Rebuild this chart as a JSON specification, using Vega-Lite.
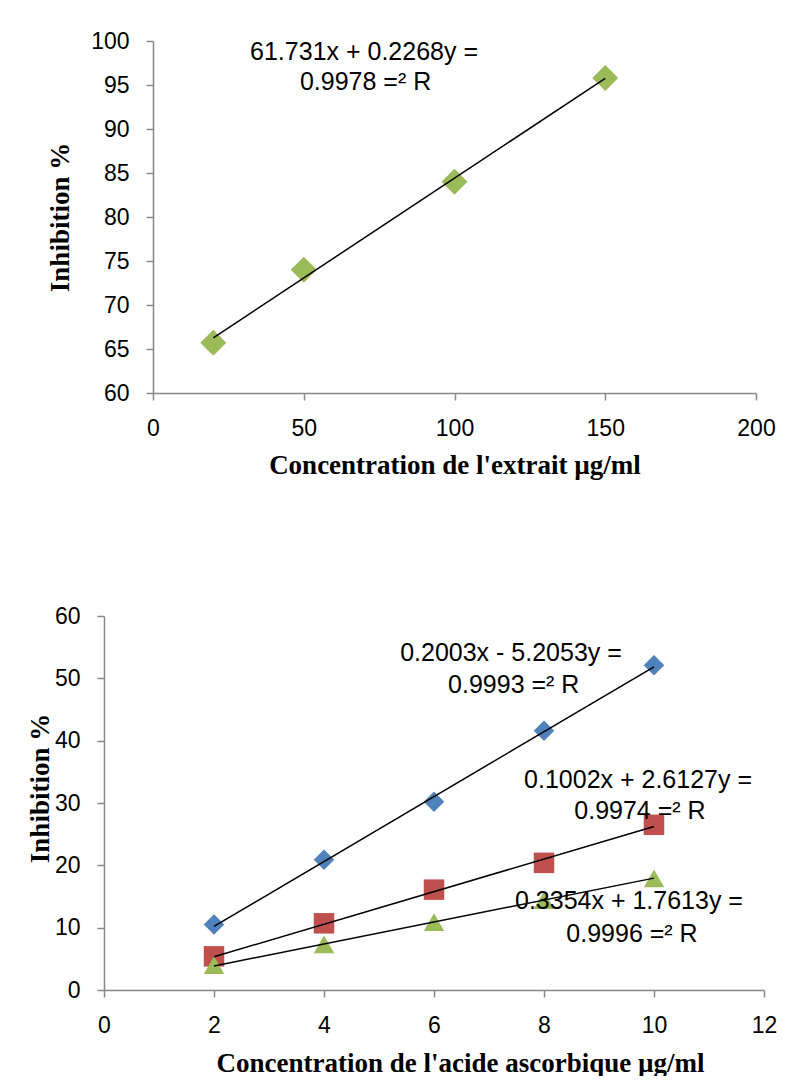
{
  "$schema": "https://vega.github.io/schema/vega-lite/v6.json",
  "background": "white",
  "padding": {"top": 30, "left": 26, "right": 0, "bottom": 0},
  "autosize": {"type": "pad"},
  "spacing": 127,
  "config": {
    "view": {"stroke": null},
    "axis": {
      "grid": false,
      "domainColor": "#888888",
      "domainWidth": 1.5,
      "tickColor": "#888888",
      "tickWidth": 1.5,
      "tickSize": 7,
      "labelFont": "Liberation Sans",
      "labelFontSize": 23,
      "labelColor": "black",
      "labelPadding": 17,
      "labelFlush": false,
      "titleFont": "Liberation Serif",
      "titleFontSize": 27,
      "titleFontWeight": "bold",
      "titleColor": "black"
    }
  },
  "datasets": {
    "extrait": [
      {"conc": 20, "inhib": 65.7},
      {"conc": 50, "inhib": 74.0},
      {"conc": 100, "inhib": 84.0},
      {"conc": 150, "inhib": 95.8}
    ],
    "extraitTrend": [
      {"conc": 20, "inhib": 66.27},
      {"conc": 150, "inhib": 95.75}
    ],
    "extraitEq": [
      {"conc": 70, "inhib": 98.8, "label": "61.731x + 0.2268y ="},
      {"conc": 70.5, "inhib": 95.3, "label": "0.9978 =² R"}
    ],
    "acide": [
      {"series": "A", "conc": 2, "inhib": 10.5},
      {"series": "A", "conc": 4, "inhib": 20.9},
      {"series": "A", "conc": 6, "inhib": 30.2},
      {"series": "A", "conc": 8, "inhib": 41.6},
      {"series": "A", "conc": 10, "inhib": 52.1},
      {"series": "B", "conc": 2, "inhib": 5.4},
      {"series": "B", "conc": 4, "inhib": 10.7},
      {"series": "B", "conc": 6, "inhib": 16.1},
      {"series": "B", "conc": 8, "inhib": 20.4},
      {"series": "B", "conc": 10, "inhib": 26.5},
      {"series": "C", "conc": 2, "inhib": 4.0},
      {"series": "C", "conc": 4, "inhib": 7.3},
      {"series": "C", "conc": 6, "inhib": 10.9},
      {"series": "C", "conc": 8, "inhib": 14.4},
      {"series": "C", "conc": 10, "inhib": 17.9}
    ],
    "acideTrend": [
      {"series": "A", "conc": 2, "inhib": 10.21},
      {"series": "A", "conc": 10, "inhib": 51.85},
      {"series": "B", "conc": 2, "inhib": 5.33},
      {"series": "B", "conc": 10, "inhib": 26.23},
      {"series": "C", "conc": 2, "inhib": 3.86},
      {"series": "C", "conc": 10, "inhib": 17.95}
    ],
    "acideEq": [
      {"conc": 7.4, "inhib": 54.07, "label": "0.2003x - 5.2053y ="},
      {"conc": 7.45, "inhib": 48.93, "label": "0.9993 =² R"},
      {"conc": 9.71, "inhib": 33.69, "label": "0.1002x + 2.6127y ="},
      {"conc": 9.745, "inhib": 28.72, "label": "0.9974 =² R"},
      {"conc": 9.545, "inhib": 14.28, "label": "0.3354x + 1.7613y ="},
      {"conc": 9.6, "inhib": 9.06, "label": "0.9996 =² R"}
    ]
  },
  "vconcat": [
    {
      "width": 652,
      "height": 352,
      "encoding": {
        "x": {
          "field": "conc",
          "type": "quantitative",
          "scale": {"domain": [0, 200], "range": [49, 652], "nice": false},
          "axis": {"values": [0, 50, 100, 150, 200], "titlePadding": 12},
          "title": "Concentration de l'extrait µg/ml"
        },
        "y": {
          "field": "inhib",
          "type": "quantitative",
          "scale": {"domain": [60, 100], "nice": false, "zero": false},
          "axis": {"values": [60, 65, 70, 75, 80, 85, 90, 95, 100], "offset": -49, "titlePadding": 16},
          "title": "Inhibition %"
        }
      },
      "layer": [
        {
          "data": {"name": "extrait"},
          "mark": {"type": "point", "shape": "diamond", "filled": true, "size": 676, "color": "#9BBB59", "opacity": 1}
        },
        {
          "data": {"name": "extraitTrend"},
          "mark": {"type": "line", "color": "black", "strokeWidth": 1.5}
        },
        {
          "data": {"name": "extraitEq"},
          "mark": {"type": "text", "font": "Liberation Sans", "fontSize": 25, "align": "center", "baseline": "middle", "color": "black"},
          "encoding": {"text": {"field": "label", "type": "nominal"}}
        }
      ]
    },
    {
      "width": 660,
      "height": 374,
      "encoding": {
        "x": {
          "field": "conc",
          "type": "quantitative",
          "scale": {"domain": [0, 12], "nice": false},
          "axis": {"values": [0, 2, 4, 6, 8, 10, 12], "titlePadding": 13, "titleX": 356},
          "title": "Concentration de l'acide ascorbique µg/ml"
        },
        "y": {
          "field": "inhib",
          "type": "quantitative",
          "scale": {"domain": [0, 60], "nice": false},
          "axis": {"values": [0, 10, 20, 30, 40, 50, 60], "titlePadding": 0, "titleY": 172},
          "title": "Inhibition %"
        }
      },
      "layer": [
        {
          "data": {"name": "acide"},
          "mark": {"type": "point", "filled": true, "size": 420, "opacity": 1},
          "encoding": {
            "color": {"field": "series", "type": "nominal", "scale": {"domain": ["A", "B", "C"], "range": ["#4F81BD", "#C0504D", "#9BBB59"]}, "legend": null},
            "shape": {"field": "series", "type": "nominal", "scale": {"domain": ["A", "B", "C"], "range": ["diamond", "square", "triangle-up"]}, "legend": null}
          }
        },
        {
          "data": {"name": "acideTrend"},
          "mark": {"type": "line", "color": "black", "strokeWidth": 1.5},
          "encoding": {"detail": {"field": "series", "type": "nominal"}}
        },
        {
          "data": {"name": "acideEq"},
          "mark": {"type": "text", "font": "Liberation Sans", "fontSize": 25, "align": "center", "baseline": "middle", "color": "black"},
          "encoding": {"text": {"field": "label", "type": "nominal"}}
        }
      ]
    }
  ]
}
